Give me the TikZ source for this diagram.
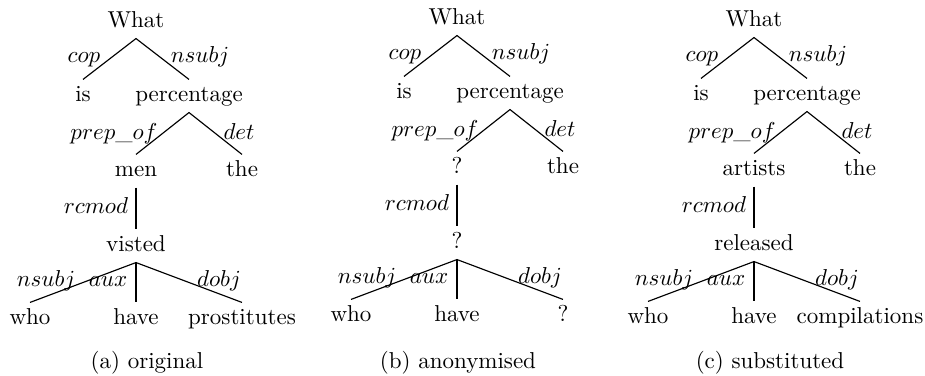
\documentclass[tikz,border=0pt]{standalone}
\begin{document}
\begin{tikzpicture}[x=0.4348pt,y=-0.4348pt,
  word/.style={inner xsep=1pt,inner ysep=2.5pt,text height=7pt,text depth=2pt},
  rel/.style={inner sep=0pt,text height=7pt,text depth=2pt},
  link/.style={line width=0.5pt},
  capt/.style={inner sep=0pt,text height=7pt,text depth=2pt}]
\useasboundingbox (0,0) rectangle (925,376);

% one dependency tree; #1 name prefix, #2 object of "prep_of",
% #3 relative-clause verb, #4 its direct object
\newcommand{\deptree}[4]{%
  \node[word] (#1-what) at (0,21)    {What};
  \node[word] (#1-is)   at (-53,95)  {is};
  \node[word] (#1-pct)  at (53,95)   {percentage};
  \node[word] (#1-obj)  at (0,170)   {#2};
  \node[word] (#1-the)  at (106,170) {the};
  \node[word] (#1-verb) at (0,245)   {#3};
  \node[word] (#1-who)  at (-106,318){who};
  \node[word] (#1-have) at (0,318)   {have};
  \node[word] (#1-dobj) at (106,318) {#4};
  \draw[link] (#1-is.north) -- (#1-what.south) -- (#1-pct.north);
  \draw[link] (#1-obj.north) -- (#1-pct.south) -- (#1-the.north);
  \draw[link] (#1-obj.south) -- (#1-verb.north);
  \draw[link] (#1-who.north) -- (#1-verb.south) -- (#1-dobj.north);
  \draw[link] (#1-verb.south) -- (#1-have.north);
  \node[rel] (#1-lcop)   at (-52,56)  {$cop$};
  \node[rel] (#1-lnsubj) at (64,56)   {$nsubj$};
  \node[rel] (#1-lprep)  at (-22,133) {$prep\_of$};
  \node[rel] (#1-ldet)   at (103,133) {$det$};
  \node[rel] (#1-lrcmod) at (-40,207) {$rcmod$};
  \node[rel] (#1-lsubj)  at (-90,280) {$nsubj$};
  \node[rel] (#1-laux)   at (-28,280) {$aux$};
  \node[rel] (#1-ldobj)  at (83,280)  {$dobj$};
}

\begin{scope}[shift={(136,1)}]
  \deptree{a}{men}{visted}{prostitutes}
\end{scope}
\begin{scope}[shift={(457,-2)}]
  \deptree{b}{?}{?}{?}
\end{scope}
\begin{scope}[shift={(754,0)}]
  \deptree{c}{artists}{released}{compilations}
\end{scope}

\node[capt] (capa) at (147,363) {(a) original};
\node[capt] (capb) at (458,363) {(b) anonymised};
\node[capt] (capc) at (770,363) {(c) substituted};
\end{tikzpicture}
\end{document}
